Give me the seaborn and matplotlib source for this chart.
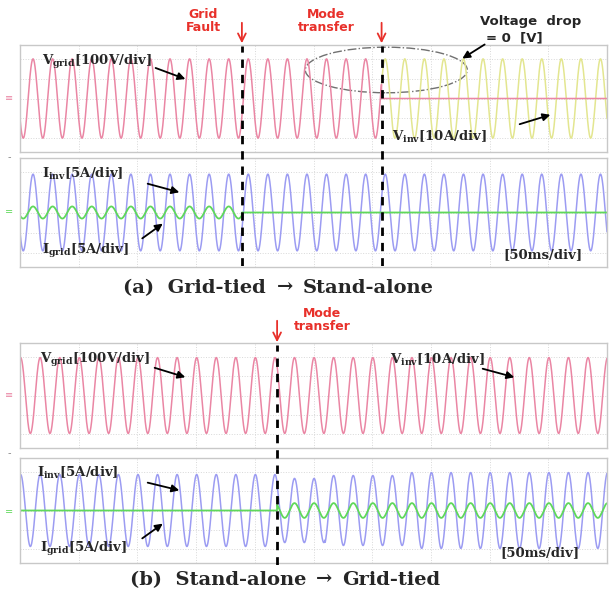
import numpy as np
import pandas as pd
import matplotlib
matplotlib.use("Agg")
import matplotlib.pyplot as plt
import seaborn as sns
from matplotlib.patches import Ellipse

sns.set_style("white")
plt.rcParams["mathtext.fontset"] = "custom"
plt.rcParams["mathtext.rm"] = "DejaVu Serif:bold"
plt.rcParams["mathtext.it"] = "DejaVu Serif:bold"
plt.rcParams["mathtext.bf"] = "DejaVu Serif:bold"

# ---- data ----
span_ms = 500            # 10 div x 50 ms/div
line_hz = 60
fault_ms = 189           # (a) grid fault
transfer_a_ms = 308      # (a) mode transfer
transfer_b_ms = 219      # (b) mode transfer
peak_a_ms = 11.1         # first voltage peak, panel (a)
peak_b_ms = 0.5          # first voltage peak, panel (b)

# amplitudes in divisions
vgrid_a_amp = [2.0, 0.0]      # before / after mode transfer
vinv_a_amp = 2.0              # shown after mode transfer
iinv_a_amp = 1.9
igrid_a_amp = [0.3, 0.0]      # before / after grid fault
vgrid_b_amp = 1.95
iinv_b_edges = [0, 219, 260, 330, 500]
iinv_b_amp = [1.85, 1.65, 1.8, 1.95]
igrid_b_amp = [0.0, 0.38]     # before / after mode transfer

pink = "#ea86a4"
yellow = "#e3e690"
blue = "#9c9cf2"
green = "#5fd85a"
red = "#e8302a"

t = np.linspace(0, span_ms, 5001)


def wave(amp, peak_ms):
    return amp * np.cos(2 * np.pi * line_hz * (t - peak_ms) / 1000)


def step(edges, amps):
    return np.array(amps)[np.clip(np.searchsorted(edges, t, side="right") - 1, 0, len(amps) - 1)]


def fx(px):
    return px / 615


def fy(py):
    return 1 - py / 600


def box(top, bottom):
    return [fx(20), fy(bottom), fx(607) - fx(20), fy(top) - fy(bottom)]


def scope(ax):
    ax.set_xlim(0, span_ms)
    ax.set_ylim(-2.7, 2.7)
    ax.set_xticks(np.arange(0, span_ms + 1, 50))
    ax.set_yticks([-2, -1, 0, 1, 2])
    ax.grid(True, color="#d8d8d8", lw=0.7, ls=":")
    ax.tick_params(length=0, labelbottom=False, labelleft=False)
    ax.set_xlabel("")
    ax.set_ylabel("")
    for s in ax.spines.values():
        s.set_color("#c8c8c8")
        s.set_linewidth(1)


def trace(ax, y, color, lw=1.1, mask=None):
    df = pd.DataFrame({"t": t, "v": y})
    if mask is not None:
        df = df[mask]
    sns.lineplot(data=df, x="t", y="v", ax=ax, color=color, lw=lw, estimator=None)


fig = plt.figure(figsize=(6.15, 6.0), dpi=100)

# ---- panel (a) ----
ax_va = fig.add_axes(box(45, 152))
ax_ia = fig.add_axes(box(158, 267))
trace(ax_va, wave(vinv_a_amp, peak_a_ms), yellow, mask=t >= transfer_a_ms)
trace(ax_va, wave(step([0, transfer_a_ms], vgrid_a_amp), peak_a_ms), pink)
trace(ax_ia, wave(iinv_a_amp, peak_a_ms), blue)
trace(ax_ia, wave(step([0, fault_ms], igrid_a_amp), peak_a_ms), green, lw=1.3)
scope(ax_va)
scope(ax_ia)
ax_va.add_patch(Ellipse((transfer_a_ms + 4, 1.44), 138, 2.3, fill=False, ls="-.",
                        color="#707070", lw=1, clip_on=False))

# ---- panel (b) ----
ax_vb = fig.add_axes(box(343, 448))
ax_ib = fig.add_axes(box(458, 563))
trace(ax_vb, wave(vgrid_b_amp, peak_b_ms), pink)
trace(ax_ib, wave(step(iinv_b_edges, iinv_b_amp), peak_b_ms), blue)
trace(ax_ib, wave(step([0, transfer_b_ms], igrid_b_amp), peak_b_ms), green, lw=1.3)
scope(ax_vb)
scope(ax_ib)

# ---- event markers: dashed lines + red arrows ----
ov_a = fig.add_axes(box(46, 266), facecolor="none", zorder=5)
ov_b = fig.add_axes(box(345, 565), facecolor="none", zorder=5)
for ov, times, tip, tail in [(ov_a, [fault_ms, transfer_a_ms], 46, 20),
                             (ov_b, [transfer_b_ms], 345, 318)]:
    ov.set_xlim(0, span_ms)
    ov.set_ylim(0, 1)
    ov.axis("off")
    for tm in times:
        ov.axvline(tm, color="black", lw=2, ls=(0, (3, 2.5)))
        ov.annotate("", xy=(tm, fy(tip)), xytext=(tm, fy(tail)),
                    xycoords=("data", "figure fraction"),
                    arrowprops=dict(arrowstyle="->", color=red, lw=1.3, mutation_scale=14),
                    annotation_clip=False)

# ---- labels ----
serif = ["DejaVu Serif"]
sans = ["DejaVu Sans"]
lab = dict(fontsize=9.5, family=serif, weight="bold", va="center", ha="left", zorder=10)
red_txt = dict(fontsize=9, color=red, ha="center", va="center", linespacing=1.0,
               family=sans, weight="bold")
cap = dict(fontsize=14, family=serif, weight="bold", va="center")
arw = dict(arrowstyle="-|>", color="black", lw=1.3, mutation_scale=11)


def arrow(x0, y0, x1, y1):
    fig.add_artist(plt.Annotation("", xy=(fx(x1), fy(y1)), xytext=(fx(x0), fy(y0)),
                                  xycoords="figure fraction", arrowprops=arw))


fig.text(fx(203), fy(21), "Grid\nFault", **red_txt)
fig.text(fx(326), fy(21), "Mode\ntransfer", **red_txt)
fig.text(fx(480), fy(22), "Voltage  drop", fontsize=9.5, weight="bold", ha="left",
         va="center", family=sans)
fig.text(fx(486), fy(38), "= 0  [V]", fontsize=9.5, weight="bold", ha="left", va="center",
         family=sans)
arrow(487, 43, 460, 60)

fig.text(fx(42), fy(62), r"V$_{\rm grid}$[100V/div]", **lab)
arrow(153, 67, 188, 80)
fig.text(fx(392), fy(137), r"V$_{\rm inv}$[10A/div]", **lab)
arrow(517, 125, 553, 114)
fig.text(fx(42), fy(174), r"I$_{\rm inv}$[5A/div]", **lab)
arrow(145, 183, 182, 193)
fig.text(fx(42), fy(251), r"I$_{\rm grid}$[5A/div]", **lab)
arrow(140, 240, 165, 222)
fig.text(fx(503), fy(255), "[50ms/div]", **lab)
fig.text(fx(266), fy(288), "(a)  Grid-tied", ha="right", **cap)
fig.text(fx(285), fy(287), "\u2192", ha="center", **cap)
fig.text(fx(303), fy(288), "Stand-alone", ha="left", **cap)

fig.text(fx(322), fy(320), "Mode\ntransfer", **red_txt)
fig.text(fx(40), fy(360), r"V$_{\rm grid}$[100V/div]", **lab)
arrow(152, 367, 188, 378)
fig.text(fx(390), fy(360), r"V$_{\rm inv}$[10A/div]", **lab)
arrow(480, 368, 517, 378)
fig.text(fx(37), fy(473), r"I$_{\rm inv}$[5A/div]", **lab)
arrow(145, 482, 182, 491)
fig.text(fx(40), fy(549), r"I$_{\rm grid}$[5A/div]", **lab)
arrow(140, 540, 165, 522)
fig.text(fx(500), fy(553), "[50ms/div]", **lab)
fig.text(fx(306), fy(580), "(b)  Stand-alone", ha="right", **cap)
fig.text(fx(324), fy(579), "\u2192", ha="center", **cap)
fig.text(fx(342), fy(580), "Grid-tied", ha="left", **cap)

# channel markers at the left edge
for py, col, s in [(98, pink, "\u2261"), (212, green, "="), (157, "#888888", "-"),
                   (395, pink, "\u2261"), (512, green, "="), (453, "#888888", "-")]:
    fig.text(fx(9), fy(py), s, color=col, fontsize=7, ha="center", va="center")

fig.savefig("out.png", dpi=100)
